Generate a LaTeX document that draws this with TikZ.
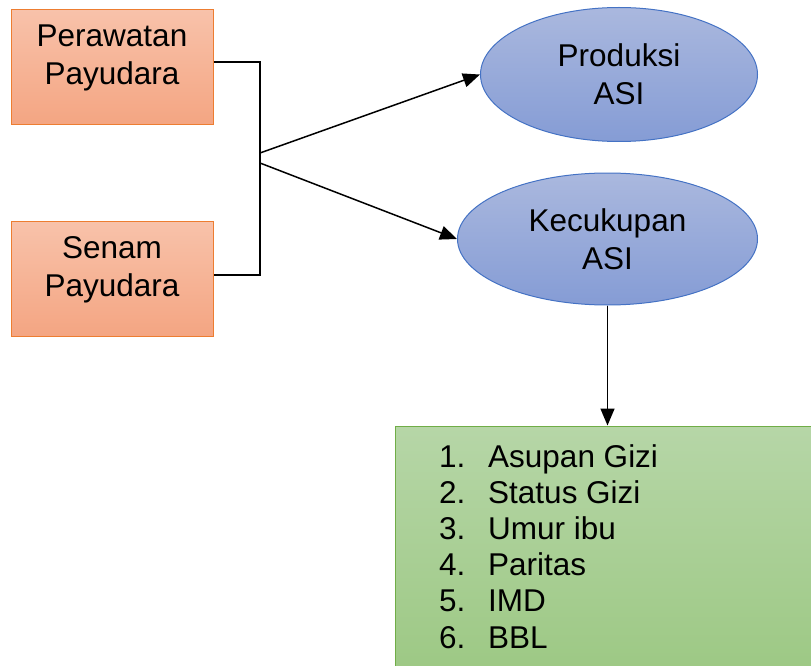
\documentclass[tikz,border=0pt]{standalone}
\usepackage{fontspec}
\setmainfont{Liberation Sans}
\usetikzlibrary{shapes.geometric,arrows.meta}

\definecolor{jinggagaris}{HTML}{ED7D31}
\definecolor{jinggaatas}{RGB}{248,194,170}
\definecolor{jinggabawah}{RGB}{244,165,130}
\definecolor{birugaris}{HTML}{4472C4}
\definecolor{biruatas}{RGB}{170,184,222}
\definecolor{birubawah}{RGB}{133,156,213}
\definecolor{hijaugaris}{HTML}{70AD47}
\definecolor{hijauatas}{RGB}{182,214,167}
\definecolor{hijaubawah}{RGB}{156,200,131}

\begin{document}
\begin{tikzpicture}[x=1pt,y=-1pt,
    every node/.style={font=\fontsize{31.5}{38}\selectfont},
    kotak/.style={draw=jinggagaris, line width=1pt, top color=jinggaatas, bottom color=jinggabawah,
      minimum width=202pt, minimum height=115pt, inner sep=0pt, align=center, text depth=25pt},
    elips/.style={ellipse, draw=birugaris, line width=1pt, top color=biruatas, bottom color=birubawah,
      inner sep=0pt, align=center},
    panah/.style={-{Triangle[length=17pt,width=14pt]}, line width=1.5pt}]
  \useasboundingbox (0,0) rectangle (811,666);
  \clip (0,0) rectangle (811,666);

  % variabel bebas
  \node[kotak] (perawatan) at (112,67.5) {Perawatan\\Payudara};
  \node[kotak] (senam) at (112,279) {Senam\\Payudara};

  % variabel terikat
  \node[elips, minimum width=277pt, minimum height=134pt] (produksi) at (619,74.5) {Produksi\\ASI};
  \node[elips, minimum width=300pt, minimum height=132pt] (kecukupan) at (607.5,239) {Kecukupan\\ASI};

  % faktor lain
  \node[draw=hijaugaris, line width=1pt, top color=hijauatas, bottom color=hijaubawah,
    minimum width=425pt, minimum height=254pt, inner sep=0pt] (faktor) at (607.5,553) {};
  \foreach \nomor/\teks [count=\i from 0] in {1/Asupan Gizi, 2/Status Gizi, 3/Umur ibu,
      4/Paritas, 5/IMD, 6/BBL} {
    \node[anchor=base west, inner sep=0pt] (no\nomor) at (439,467+36.2*\i) {\nomor.};
    \node[anchor=base west, inner sep=0pt] (item\nomor) at (488,467+36.2*\i) {\teks};
  }

  % garis penghubung
  \coordinate (sudut1) at (260,62);
  \coordinate (sudut2) at (260,275);
  \coordinate (cabang1) at (260,153);
  \coordinate (cabang2) at (260,163);
  \draw[line width=1.5pt] (perawatan.east |- sudut1) -- (sudut1) -- (sudut2) -- (senam.east |- sudut2);
  \draw[panah] (cabang1) -- (produksi.west);
  \draw[panah] (cabang2) -- (kecukupan.west);
  \draw[panah] (kecukupan.south) -- (faktor.north);
\end{tikzpicture}
\end{document}
